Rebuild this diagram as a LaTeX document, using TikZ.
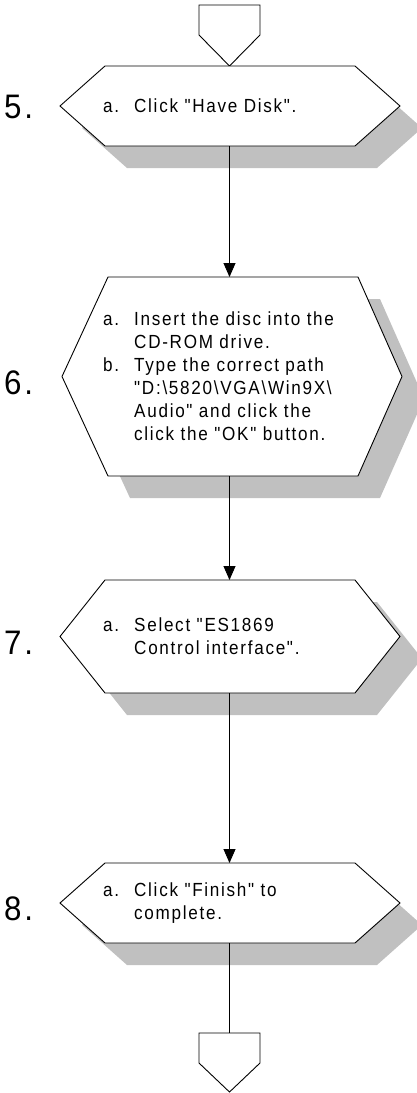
\documentclass[tikz,border=0pt]{standalone}
\usepackage{fontspec}
\setmainfont{Liberation Sans}
\newfontfamily\bodyfont[LetterSpace=9,FakeStretch=0.9]{Liberation Sans}
\newfontfamily\numfont[LetterSpace=8,FakeStretch=0.92]{Liberation Sans}
\usetikzlibrary{arrows.meta,calc}
\definecolor{shadowc}{RGB}{192,192,192}
\newcommand\itemrow[2]{\makebox[31pt][l]{#1}#2}
\newcommand\controw[1]{\hspace*{31pt}#1}
\newcommand\bs{\textbackslash}
\tikzset{
  outline/.style={draw=black, line width=0.9pt, fill=white, line join=miter},
  shade/.style={fill=shadowc, draw=none},
  conn/.style={draw=black, line width=0.9pt},
  arr/.style={conn, -{Triangle[width=12pt,length=14pt]}},
  bodytext/.style={anchor=west, inner sep=0pt, align=left, font=\bodyfont\fontsize{19}{23}\selectfont},
  steplabel/.style={anchor=west, inner sep=0pt, font=\numfont\fontsize{34}{36}\selectfont}
}
% #1 name, #2 top, #3 bottom, #4 left point, #5 left corner, #6 right corner, #7 right point
\newcommand\hexbox[7]{%
  \pgfmathsetmacro\hexmid{(#2+#3)/2}%
  \fill[shade, xshift=22pt, yshift=-22pt] (#4pt,-\hexmid pt) -- (#5pt,-#2pt) -- (#6pt,-#2pt) -- (#7pt,-\hexmid pt) -- (#6pt,-#3pt) -- (#5pt,-#3pt) -- cycle;
  \draw[outline] (#4pt,-\hexmid pt) -- (#5pt,-#2pt) -- (#6pt,-#2pt) -- (#7pt,-\hexmid pt) -- (#6pt,-#3pt) -- (#5pt,-#3pt) -- cycle;
  \coordinate (#1t) at (229.5pt,-#2pt);
  \coordinate (#1b) at (229.5pt,-#3pt);
  \coordinate (#1m) at (0pt,-\hexmid pt);
}
\begin{document}
\begin{tikzpicture}
\useasboundingbox (0pt,0pt) rectangle (416pt,-1093pt);
% top off-page connector
\draw[outline] (199pt,-5pt) -- (260pt,-5pt) -- (260pt,-35pt) -- (229.5pt,-66pt) -- (199pt,-35pt) -- cycle;
\coordinate (topc) at (229.5pt,-66pt);

\hexbox{h5}{66}{146}{60}{105}{355}{400}
\hexbox{h6}{277}{476}{62}{108}{358}{402}
\hexbox{h7}{580}{693}{60}{105}{355}{400}
\hexbox{h8}{863}{943}{60}{105}{355}{400}

% bottom off-page connector
\draw[outline] (199pt,-1033pt) -- (260pt,-1033pt) -- (260pt,-1063pt) -- (229.5pt,-1092pt) -- (199pt,-1063pt) -- cycle;
\coordinate (botc) at (229.5pt,-1033pt);

% connectors
\draw[arr] (h5b) -- (h6t);
\draw[arr] (h6b) -- (h7t);
\draw[arr] (h7b) -- (h8t);
\draw[conn] (h8b) -- (botc);

% step numbers
\node[steplabel] (n5) at ($(h5m)+(4pt,-1pt)$) {5.};
\node[steplabel] (n6) at ($(h6m)+(4pt,-6pt)$) {6.};
\node[steplabel] (n7) at ($(h7m)+(4pt,-6pt)$) {7.};
\node[steplabel] (n8) at ($(h8m)+(4pt,-6pt)$) {8.};

% texts
\node[bodytext] (t5) at ($(h5m)+(103pt,0pt)$) {\itemrow{a.}{Click "Have Disk".}};
\node[bodytext] (t6) at ($(h6m)+(103pt,0pt)$) {\itemrow{a.}{Insert the disc into the}\\
  \controw{CD-ROM drive.}\\
  \itemrow{b.}{Type the correct path}\\
  \controw{"D:\bs 5820\bs VGA\bs Win9X\bs}\\
  \controw{Audio" and click the}\\
  \controw{click the "OK" button.}};
\node[bodytext] (t7) at ($(h7m)+(103pt,0pt)$) {\itemrow{a.}{Select "ES1869}\\
  \controw{Control interface".}};
\node[bodytext] (t8) at ($(h8m)+(103pt,0pt)$) {\itemrow{a.}{Click "Finish" to}\\
  \controw{complete.}};
\end{tikzpicture}
\end{document}
